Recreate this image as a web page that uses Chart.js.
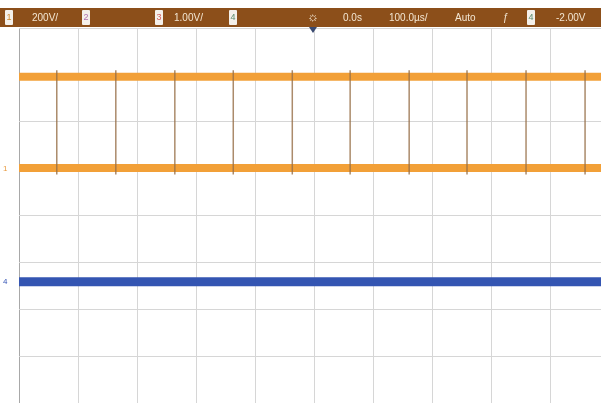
<!DOCTYPE html>
<html>
<head>
<meta charset="utf-8">
<script src="https://cdn.jsdelivr.net/npm/chart.js@4"></script>
<style>
  html, body { margin: 0; padding: 0; background: #fff; }
  #wrap { position: relative; width: 601px; height: 403px; overflow: hidden; font-family: "Liberation Sans", "DejaVu Sans", sans-serif; }
  #c { position: absolute; left: 0; top: 0; }
  #hdr { position: absolute; left: 0; top: 8px; width: 601px; height: 19px; background: #8c4f1a; }
  .t { position: absolute; top: 3px; font-size: 10px; color: #f3e6d2; line-height: 13px; white-space: nowrap; }
  .b { position: absolute; top: 2px; width: 8px; height: 15px; background: #f4f0ea; color: #7a6a60; font-size: 9px; line-height: 15px; text-align: center; border-radius: 1px; }
  .mk { position: absolute; font-size: 8px; line-height: 9px; }
  #trig { position: absolute; left: 309px; top: 27px; width: 0; height: 0; border-left: 4px solid transparent; border-right: 4px solid transparent; border-top: 6px solid #3a4a70; }
</style>
</head>
<body>
<div id="wrap">
  <canvas id="c" width="601" height="403"></canvas>
  <div id="hdr">
    <div class="b" style="left:5px;color:#d08a30">1</div>
    <div class="t" style="left:32px">200V/</div>
    <div class="b" style="left:82px;color:#b070b0">2</div>
    <div class="b" style="left:155px;color:#d06060">3</div>
    <div class="t" style="left:174px">1.00V/</div>
    <div class="b" style="left:229px;color:#5a8a6a">4</div>
    <div class="t" style="left:307px;font-size:13px;top:2px">☼</div>
    <div class="t" style="left:343px">0.0s</div>
    <div class="t" style="left:389px">100.0µs/</div>
    <div class="t" style="left:455px">Auto</div>
    <div class="t" style="left:503px">ƒ</div>
    <div class="b" style="left:527px;color:#5a8a6a">4</div>
    <div class="t" style="left:556px">-2.00V</div>
  </div>
  <div id="trig"></div>
  <div class="mk" style="left:3px;top:164px;color:#e89a40">1</div>
  <div class="mk" style="left:3px;top:277px;color:#3555b5">4</div>
</div>
<script>
// Oscilloscope screen: x in time divisions, y in vertical divisions
const xMin = 0;
const xMax = 9.86;
const yMin = -3.98;
const yMax = 4;
// Channel 1 (orange) levels, in divisions
const ch1High = 2.96;
const ch1Low = 1.02;
// Channel 1 transition positions (divisions)
const ch1Edges = [0.64, 1.64, 2.64, 3.63, 4.63, 5.61, 6.61, 7.59, 8.59, 9.59];
const edgeTop = 3.1;
const edgeBottom = 0.88;
// Channel 4 (blue) level, in divisions
const ch4Level = -1.40;

const orange = '#f2a038';
const blue = '#3455b2';

const edgeData = [];
ch1Edges.forEach(x => {
  edgeData.push({x: x, y: edgeTop});
  edgeData.push({x: x, y: edgeBottom});
  edgeData.push({x: x, y: null});
});

new Chart(document.getElementById('c'), {
  type: 'scatter',
  data: {
    datasets: [
      { data: [{x: xMin, y: ch1High}, {x: xMax, y: ch1High}], showLine: true, borderColor: orange, borderWidth: 8, pointRadius: 0, order: 3 },
      { data: [{x: xMin, y: ch1Low}, {x: xMax, y: ch1Low}], showLine: true, borderColor: orange, borderWidth: 8, pointRadius: 0, order: 3 },
      { data: edgeData, showLine: true, spanGaps: false, borderColor: 'rgba(150,110,70,0.8)', borderWidth: 1.5, pointRadius: 0, order: 1 },
      { data: [{x: xMin, y: ch4Level}, {x: xMax, y: ch4Level}], showLine: true, borderColor: blue, borderWidth: 9, pointRadius: 0, order: 2 }
    ]
  },
  options: {
    responsive: false,
    animation: false,
    maintainAspectRatio: false,
    layout: { padding: { left: 19, top: 28, right: 0, bottom: 0 } },
    plugins: { legend: { display: false }, tooltip: { enabled: false } },
    scales: {
      x: {
        type: 'linear', min: xMin, max: xMax,
        ticks: { display: false, stepSize: 1 },
        grid: { drawTicks: false, lineWidth: 1, color: ctx => ctx.tick && ctx.tick.value === 0 ? '#a8a8a8' : '#d6d6d6' },
        border: { display: false }
      },
      y: {
        type: 'linear', min: yMin, max: yMax,
        ticks: { display: false, stepSize: 1 },
        grid: { drawTicks: false, lineWidth: 1, color: '#d6d6d6' },
        border: { display: false }
      }
    }
  }
});
</script>
</body>
</html>
